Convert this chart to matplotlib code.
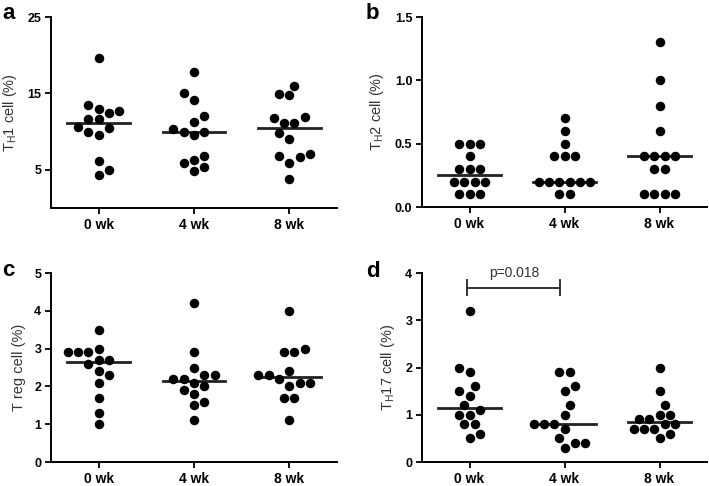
import numpy as np
import matplotlib
matplotlib.use('Agg')
import matplotlib.pyplot as plt

plt.rcParams['font.family'] = ['Liberation Sans', 'DejaVu Sans']
plt.rcParams['mathtext.default'] = 'regular'

groups = ['0 wk', '4 wk', '8 wk']

# panel a: TH1 cell (%)
th1_0 = [19.6, 13.5, 13.0, 12.7, 12.4, 11.6, 11.6, 10.6, 10.5, 10.0, 9.5, 6.1, 5.0, 4.3]
th1_4 = [17.8, 15.1, 14.1, 12.0, 11.3, 10.4, 10.0, 9.9, 9.5, 6.8, 6.3, 5.9, 5.4, 4.8]
th1_8 = [16.0, 14.9, 14.8, 11.9, 11.8, 11.1, 11.1, 9.8, 9.0, 7.1, 6.8, 6.7, 5.9, 3.8]

# panel b: TH2 cell (%)
th2_0 = [0.5, 0.5, 0.5, 0.4, 0.3, 0.3, 0.3, 0.2, 0.2, 0.2, 0.2, 0.1, 0.1, 0.1]
th2_4 = [0.7, 0.6, 0.5, 0.4, 0.4, 0.4, 0.2, 0.2, 0.2, 0.2, 0.2, 0.2, 0.1, 0.1]
th2_8 = [1.3, 1.0, 0.8, 0.6, 0.4, 0.4, 0.4, 0.4, 0.3, 0.3, 0.1, 0.1, 0.1, 0.1]

# panel c: T reg cell (%)
treg_0 = [3.5, 3.0, 2.9, 2.9, 2.9, 2.7, 2.7, 2.6, 2.4, 2.3, 2.1, 1.7, 1.3, 1.0]
treg_4 = [4.2, 2.9, 2.5, 2.3, 2.3, 2.2, 2.2, 2.1, 2.0, 1.9, 1.8, 1.6, 1.5, 1.1]
treg_8 = [4.0, 3.0, 2.9, 2.9, 2.4, 2.3, 2.3, 2.2, 2.1, 2.1, 2.0, 1.7, 1.7, 1.1]

# panel d: TH17 cell (%)
th17_0 = [3.2, 2.0, 1.9, 1.6, 1.5, 1.4, 1.2, 1.1, 1.0, 1.0, 0.8, 0.8, 0.6, 0.5]
th17_4 = [1.9, 1.9, 1.6, 1.5, 1.2, 1.0, 0.8, 0.8, 0.8, 0.7, 0.5, 0.4, 0.4, 0.3]
th17_8 = [2.0, 1.5, 1.2, 1.0, 1.0, 0.9, 0.9, 0.8, 0.8, 0.7, 0.7, 0.7, 0.6, 0.5]

p_text = 'p=0.018'

W, H = 709, 486
fig = plt.figure(figsize=(W / 100, H / 100), dpi=100)

DOT = 9.5   # dot diameter, px
SEP = 10.3  # centre distance between neighbouring dots, px


def px_axes(l, t, r, b):
    return fig.add_axes([l / W, 1 - b / H, (r - l) / W, (b - t) / H])


def swarm(ax, i, vals):
    # GraphPad-like column scatter: tied values form centred rows,
    # rows are shifted sideways in half steps until they don't collide;
    # the side with fewer dots so far is tried first to keep it balanced
    tr = ax.transData
    vals = np.asarray(vals, float)
    xs = np.zeros(len(vals))
    placed = []
    cx = tr.transform((i, 0))[0]
    for v in np.unique(vals):
        idx = np.where(vals == v)[0]
        n = len(idx)
        cy = tr.transform((i, v))[1]
        base = (np.arange(n) - (n - 1) / 2) * SEP
        bias = sum(px - cx for px, _ in placed)
        sgn = 1 if bias <= 0 else -1
        cands = [0.0]
        for s in range(1, 30):
            cands += [sgn * s * SEP / 2, -sgn * s * SEP / 2]
        for sh in cands:
            pts = cx + base + sh
            ok = all((px - qx) ** 2 + (cy - qy) ** 2 >= (SEP * 0.97) ** 2
                     for px in pts for (qx, qy) in placed)
            if ok:
                break
        for k, px in zip(idx, pts):
            placed.append((px, cy))
            xs[k] = tr.inverted().transform((px, cy))[0]
    return xs


def panel(ax, data, ylim, yticks, yticklabels, ylabel):
    ax.set_xlim(-0.5, 2.5)
    ax.set_ylim(*ylim)
    for sp in ['top', 'right']:
        ax.spines[sp].set_visible(False)
    for sp in ['left', 'bottom']:
        ax.spines[sp].set_linewidth(1.4)
    ax.set_xticks(range(3))
    ax.set_xticklabels(groups, fontsize=10, fontweight='bold')
    ax.set_yticks(yticks)
    ax.set_yticklabels(yticklabels, fontsize=9, fontweight='bold')
    ax.tick_params(axis='x', length=4, width=1.3, pad=3)
    ax.tick_params(axis='y', length=4, width=1.3, pad=3)
    ax.set_ylabel(ylabel, fontsize=10.5, color='#333333', labelpad=6)
    for i, vals in enumerate(data):
        xs = swarm(ax, i, vals)
        ax.scatter(xs, vals, s=(DOT * 0.72) ** 2, color='black', zorder=3,
                   linewidths=0, clip_on=False)
        med = np.median(vals)
        ax.plot([i - 0.33, i + 0.33], [med, med], color='#222222', lw=2, zorder=2)


ax_a = px_axes(51, 17, 337, 208)
panel(ax_a, [th1_0, th1_4, th1_8], (0, 25), [5, 15, 25], ['5', '15', '25'],
      'T$_H$1 cell (%)')

ax_b = px_axes(422, 17, 707, 207)
panel(ax_b, [th2_0, th2_4, th2_8], (0, 1.5), [0, 0.5, 1.0, 1.5],
      ['0.0', '0.5', '1.0', '1.5'], 'T$_H$2 cell (%)')

ax_c = px_axes(51, 273, 337, 462)
panel(ax_c, [treg_0, treg_4, treg_8], (0, 5), [0, 1, 2, 3, 4, 5],
      ['0', '1', '2', '3', '4', '5'], 'T reg cell (%)')

ax_d = px_axes(422, 273, 707, 462)
panel(ax_d, [th17_0, th17_4, th17_8], (0, 4), [0, 1, 2, 3, 4],
      ['0', '1', '2', '3', '4'], 'T$_H$17 cell (%)')

# panel letters
for letter, x, y in [('a', 2, 19), ('b', 366, 19), ('c', 2, 276), ('d', 366, 277)]:
    fig.text(x / W, 1 - y / H, letter, fontsize=16, fontweight='bold',
             ha='left', va='baseline')

# significance bracket
ax_d.plot([-0.03, 0.95], [3.69, 3.69], color='#333333', lw=1.4)
ax_d.plot([-0.03, -0.03], [3.53, 3.85], color='#333333', lw=1.4)
ax_d.plot([0.95, 0.95], [3.53, 3.85], color='#333333', lw=1.4)
ax_d.text(0.47, 3.85, p_text, fontsize=10, color='#333333', ha='center', va='bottom')

fig.savefig('out.png', dpi=100)
